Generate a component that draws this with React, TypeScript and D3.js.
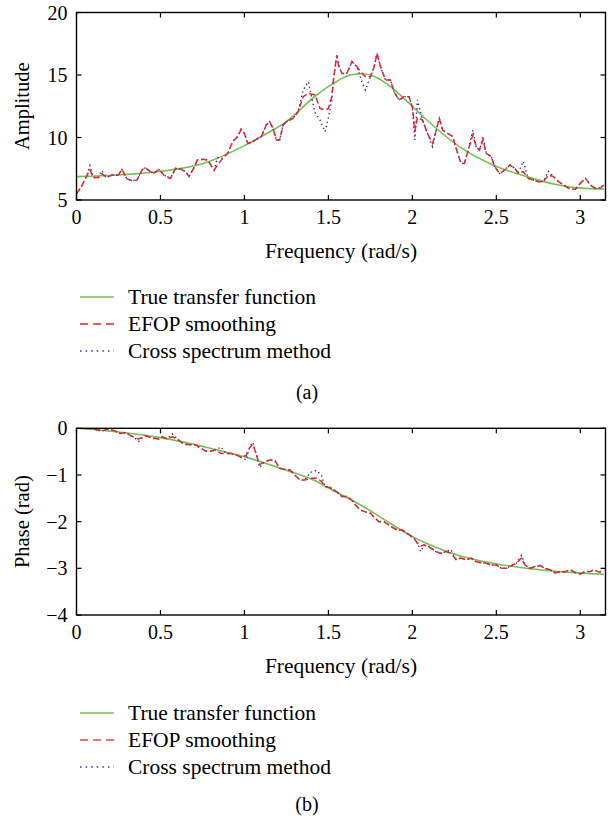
import React from "react";
import * as d3 from "d3";

const freqTicks = [0, 0.5, 1, 1.5, 2, 2.5, 3];
const ampTicks = [5, 10, 15, 20];
const phaseTicks = [0, -1, -2, -3, -4];
const legendLabels = ["True transfer function", "EFOP smoothing", "Cross spectrum method"];

const ampTrueFreq = [0, 0.25, 0.5, 0.75, 1.0, 1.13, 1.235, 1.43, 1.53, 1.63, 1.7, 1.77, 1.87, 1.97, 2.07, 2.28, 2.48, 2.68, 2.87, 3.0, 3.14];
const ampTrue = [6.87, 7.0, 7.3, 7.9, 9.35, 10.3, 11.13, 13.4, 14.33, 15.0, 15.1, 14.9, 14.07, 12.87, 11.6, 9.27, 7.8, 6.87, 6.2, 5.95, 5.87];

const ampFreq = [0.00, 0.03, 0.06, 0.08, 0.10, 0.13, 0.15, 0.18, 0.21, 0.25,
  0.27, 0.30, 0.33, 0.36, 0.39, 0.41, 0.44, 0.46, 0.49, 0.52,
  0.56, 0.59, 0.62, 0.65, 0.67, 0.70, 0.72, 0.75, 0.78, 0.80,
  0.82, 0.84, 0.87, 0.90, 0.93, 0.96, 0.98, 1.00, 1.02, 1.05,
  1.08, 1.10, 1.13, 1.15, 1.17, 1.19, 1.21, 1.23, 1.25, 1.29,
  1.32, 1.35, 1.38, 1.42, 1.45, 1.48, 1.50, 1.52, 1.53, 1.55,
  1.56, 1.58, 1.61, 1.64, 1.67, 1.70, 1.72, 1.75, 1.77, 1.79,
  1.81, 1.84, 1.87, 1.89, 1.92, 1.95, 1.98, 2.00, 2.015, 2.03,
  2.06, 2.09, 2.12, 2.14, 2.16, 2.18, 2.21, 2.24, 2.27, 2.29,
  2.31, 2.33, 2.36, 2.38, 2.40, 2.42, 2.44, 2.47, 2.49, 2.52,
  2.55, 2.58, 2.61, 2.63, 2.66, 2.69, 2.72, 2.75, 2.78, 2.81,
  2.84, 2.87, 2.90, 2.93, 2.97, 3.00, 3.03, 3.06, 3.09, 3.12,
  3.14];

const ampEfop = [5.5, 6.1, 6.9, 7.4, 6.8, 6.8, 7.1, 6.8, 7.0, 7.0,
  7.45, 6.7, 6.55, 6.6, 7.4, 7.58, 7.27, 7.13, 7.45, 7.0,
  6.73, 7.53, 7.48, 7.27, 6.87, 7.61, 8.2, 8.25, 8.2, 7.8,
  7.4, 7.8, 8.33, 8.73, 9.67, 10.07, 10.65, 10.33, 9.53, 9.67,
  9.93, 10.07, 11.0, 11.27, 10.73, 9.8, 9.8, 11.0, 11.27, 11.53,
  12.07, 13.27, 13.53, 13.4, 12.33, 12.2, 12.33, 13.27, 14.6, 16.6,
  15.8, 15.13, 15.13, 16.07, 15.67, 15.13, 14.87, 14.87, 15.53, 16.73,
  15.67, 14.6, 14.6, 13.67, 13.0, 13.27, 13.27, 12.4, 10.5, 11.6,
  11.4, 10.33, 9.53, 10.47, 11.53, 10.6, 10.33, 10.07, 8.73, 7.93,
  7.93, 8.87, 10.2, 9.27, 9.0, 9.8, 8.73, 8.47, 7.67, 7.13,
  7.4, 7.8, 7.53, 7.13, 7.27, 6.73, 6.6, 6.47, 6.47, 7.0,
  6.87, 6.47, 6.2, 5.93, 5.85, 6.33, 6.73, 6.2, 5.93, 5.98,
  6.2];

const ampCross = [5.5, 6.1, 6.9, 7.75, 6.8, 6.8, 7.35, 6.8, 7.0, 7.0,
  7.45, 6.7, 6.55, 6.6, 7.4, 7.58, 7.27, 7.13, 7.45, 7.0,
  6.73, 7.53, 7.48, 7.27, 6.87, 7.61, 8.2, 8.25, 8.2, 7.8,
  7.4, 8.4, 8.33, 8.73, 9.67, 10.07, 10.65, 10.33, 9.53, 9.67,
  9.93, 10.07, 11.0, 11.27, 10.73, 9.8, 9.8, 11.0, 11.27, 11.53,
  12.07, 13.8, 14.47, 12.0, 11.4, 10.47, 11.6, 13.0, 14.6, 16.6,
  15.8, 15.13, 15.13, 16.07, 15.67, 14.4, 13.8, 14.87, 15.53, 16.73,
  15.67, 14.6, 14.6, 13.67, 13.0, 13.27, 13.27, 12.4, 9.8, 13.0,
  11.4, 10.33, 9.27, 10.47, 11.53, 10.6, 10.33, 10.07, 8.73, 7.93,
  7.93, 8.87, 10.6, 9.27, 9.0, 10.1, 8.73, 8.47, 7.67, 7.13,
  7.4, 7.8, 7.53, 7.13, 8.1, 6.73, 6.6, 6.47, 6.47, 7.3,
  6.87, 6.47, 6.2, 5.93, 5.85, 6.33, 6.73, 6.2, 5.93, 5.98,
  6.2];

const phaseTrueFreq = [0, 0.25, 0.5, 0.79, 1.0, 1.235, 1.43, 1.5, 1.63, 1.71, 1.83, 2.0, 2.1, 2.28, 2.48, 2.68, 2.87, 3.0, 3.14];
const phaseTrue = [0, -0.08, -0.2, -0.42, -0.61, -0.88, -1.14, -1.28, -1.52, -1.68, -1.95, -2.32, -2.49, -2.73, -2.89, -3.0, -3.07, -3.1, -3.13];

const phaseFreq = [0.00, 0.05, 0.10, 0.15, 0.18, 0.22, 0.26, 0.29, 0.34, 0.37,
  0.41, 0.45, 0.49, 0.51, 0.54, 0.57, 0.60, 0.64, 0.67, 0.71,
  0.73, 0.77, 0.80, 0.83, 0.86, 0.89, 0.92, 0.95, 0.98, 1.01,
  1.03, 1.05, 1.07, 1.09, 1.12, 1.15, 1.18, 1.21, 1.24, 1.27,
  1.30, 1.33, 1.36, 1.39, 1.43, 1.46, 1.48, 1.51, 1.55, 1.58,
  1.61, 1.64, 1.66, 1.69, 1.72, 1.75, 1.78, 1.80, 1.83, 1.85,
  1.88, 1.91, 1.94, 1.98, 2.01, 2.03, 2.05, 2.07, 2.10, 2.14,
  2.17, 2.20, 2.23, 2.26, 2.29, 2.32, 2.35, 2.38, 2.41, 2.44,
  2.47, 2.50, 2.53, 2.56, 2.59, 2.62, 2.65, 2.67, 2.70, 2.73,
  2.76, 2.79, 2.82, 2.85, 2.87, 2.91, 2.94, 2.97, 3.00, 3.03,
  3.06, 3.08, 3.11, 3.14];

const phaseEfop = [0, 0, -0.01, -0.06, -0.02, -0.04, -0.11, -0.09, -0.19, -0.23,
  -0.16, -0.21, -0.23, -0.18, -0.23, -0.18, -0.23, -0.34, -0.35, -0.35,
  -0.41, -0.49, -0.49, -0.46, -0.54, -0.54, -0.54, -0.57, -0.62, -0.58,
  -0.42, -0.34, -0.55, -0.78, -0.72, -0.68, -0.68, -0.86, -0.88, -0.89,
  -1.0, -1.11, -1.11, -1.07, -1.07, -1.14, -1.25, -1.27, -1.36, -1.46,
  -1.46, -1.54, -1.64, -1.75, -1.79, -1.82, -1.93, -2.0, -2.0, -2.05,
  -2.12, -2.18, -2.18, -2.28, -2.36, -2.46, -2.52, -2.5, -2.54, -2.64,
  -2.68, -2.64, -2.68, -2.81, -2.78, -2.82, -2.78, -2.86, -2.88, -2.89,
  -2.93, -2.93, -3.0, -3.0, -2.94, -2.89, -2.78, -2.93, -3.0, -2.96,
  -2.94, -3.0, -3.03, -3.1, -3.08, -3.07, -3.03, -3.09, -3.12, -3.07,
  -3.07, -3.03, -3.08, -3.06];

const phaseCross = [0, 0, -0.01, -0.06, -0.02, -0.04, -0.11, -0.09, -0.19, -0.28,
  -0.16, -0.21, -0.23, -0.18, -0.23, -0.12, -0.23, -0.34, -0.35, -0.35,
  -0.41, -0.49, -0.49, -0.46, -0.4, -0.54, -0.54, -0.57, -0.62, -0.68,
  -0.42, -0.3, -0.55, -0.84, -0.72, -0.68, -0.68, -0.86, -0.88, -0.89,
  -1.0, -1.11, -1.11, -0.95, -0.9, -1.02, -1.25, -1.27, -1.36, -1.46,
  -1.46, -1.54, -1.64, -1.75, -1.79, -1.82, -1.93, -2.0, -2.0, -2.05,
  -2.12, -2.18, -2.18, -2.28, -2.36, -2.46, -2.64, -2.5, -2.54, -2.64,
  -2.68, -2.64, -2.6, -2.81, -2.78, -2.82, -2.78, -2.86, -2.88, -2.89,
  -2.93, -2.93, -3.0, -3.0, -2.94, -2.89, -2.72, -2.93, -3.0, -2.96,
  -2.94, -3.0, -3.03, -3.1, -3.08, -3.07, -3.03, -3.09, -3.12, -3.07,
  -3.07, -3.03, -3.08, -3.06];

const GREEN = "#72c24e";
const RED = "#e8232f";
const BLUE = "#2f2f9a";
const FONT = "'Liberation Serif', 'Times New Roman', serif";

const fmt = (v: number) => (v < 0 ? "\u2212" + Math.abs(v) : String(v));

type PanelProps = {
  id: string;
  top: number;
  bottom: number;
  yDomain: [number, number];
  yTicks: number[];
  yLabel: string;
  trueF: number[];
  trueV: number[];
  freq: number[];
  efop: number[];
  cross: number[];
  legendY: number;
  caption: string;
  captionY: number;
  legendRed: string;
};

function Panel(p: PanelProps) {
  const left = 76.5;
  const right = 605.5;
  const x = d3.scaleLinear().domain([0, 3.15]).range([left, right]);
  const y = d3.scaleLinear().domain(p.yDomain).range([p.bottom, p.top]);
  const lineXY = d3
    .line<[number, number]>()
    .x((d) => x(d[0]))
    .y((d) => y(d[1]));
  const smooth = d3
    .line<[number, number]>()
    .x((d) => x(d[0]))
    .y((d) => y(d[1]))
    .curve(d3.curveMonotoneX);
  const trueData = p.trueF.map((f, i) => [f, p.trueV[i]] as [number, number]);
  const efopData = p.freq.map((f, i) => [f, p.efop[i]] as [number, number]);
  const crossData = p.freq.map((f, i) => [f, p.cross[i]] as [number, number]);
  const tl = 5;
  const midY = (p.top + p.bottom) / 2;
  const midX = (left + right) / 2;
  const rows = [0, 1, 2].map((i) => p.legendY + i * 27);
  return (
    <g>
      <defs>
        <clipPath id={p.id}>
          <rect x={left} y={p.top} width={right - left} height={p.bottom - p.top} />
        </clipPath>
      </defs>
      <g clipPath={`url(#${p.id})`} fill="none">
        <path d={smooth(trueData) || ""} stroke={GREEN} strokeWidth={1.6} />
        <path d={lineXY(crossData) || ""} stroke={BLUE} strokeWidth={1.4} strokeDasharray="1.4,3" />
        <path d={lineXY(efopData) || ""} stroke={RED} strokeWidth={1.5} strokeDasharray="6,3" />
      </g>
      <rect x={left} y={p.top} width={right - left} height={p.bottom - p.top} fill="none" stroke="#000" strokeWidth={1.4} />
      {freqTicks.map((t) => (
        <g key={"xt" + t}>
          <line x1={x(t)} x2={x(t)} y1={p.bottom} y2={p.bottom - tl} stroke="#000" strokeWidth={1.2} />
          <line x1={x(t)} x2={x(t)} y1={p.top} y2={p.top + tl} stroke="#000" strokeWidth={1.2} />
          <text x={x(t)} y={p.bottom + 17} textAnchor="middle" dominantBaseline="central" fontSize={20} fontFamily={FONT}>
            {fmt(t)}
          </text>
        </g>
      ))}
      {p.yTicks.map((t) => (
        <g key={"yt" + t}>
          <line x1={left} x2={left + tl} y1={y(t)} y2={y(t)} stroke="#000" strokeWidth={1.2} />
          <line x1={right} x2={right - tl} y1={y(t)} y2={y(t)} stroke="#000" strokeWidth={1.2} />
          <text x={left - 9} y={y(t)} textAnchor="end" dominantBaseline="central" fontSize={20} fontFamily={FONT}>
            {fmt(t)}
          </text>
        </g>
      ))}
      <text
        transform={`translate(22,${midY}) rotate(-90)`}
        textAnchor="middle"
        dominantBaseline="central"
        fontSize={20.5}
        fontFamily={FONT}
      >
        {p.yLabel}
      </text>
      <text x={midX} y={p.bottom + 51} textAnchor="middle" dominantBaseline="central" fontSize={21.5} fontFamily={FONT}>
        Frequency (rad/s)
      </text>
      <line x1={80} x2={114} y1={rows[0]} y2={rows[0]} stroke={GREEN} strokeWidth={1.6} />
      <line x1={80} x2={114} y1={rows[1]} y2={rows[1]} stroke={p.legendRed} strokeWidth={1.5} strokeDasharray="8,5" />
      <line x1={80} x2={114} y1={rows[2]} y2={rows[2]} stroke={BLUE} strokeWidth={1.4} strokeDasharray="1.4,4.2" />
      {legendLabels.map((l, i) => (
        <text key={l} x={128} y={rows[i]} dominantBaseline="central" fontSize={21.5} fontFamily={FONT}>
          {l}
        </text>
      ))}
      <text x={307} y={p.captionY} textAnchor="middle" dominantBaseline="central" fontSize={20} fontFamily={FONT}>
        {p.caption}
      </text>
    </g>
  );
}

export default function App() {
  return (
    <svg
      width={613}
      height={823}
      viewBox="0 0 613 823"
      style={{ position: "absolute", left: 0, top: 0, background: "#fff" }}
    >
      <rect width={613} height={823} fill="#fff" />
      <Panel
        id="clipA"
        top={12.5}
        bottom={200}
        yDomain={[5, 20]}
        yTicks={ampTicks}
        yLabel="Amplitude"
        trueF={ampTrueFreq}
        trueV={ampTrue}
        freq={ampFreq}
        efop={ampEfop}
        cross={ampCross}
        legendY={297}
        caption="(a)"
        captionY={392}
        legendRed={RED}
      />
      <Panel
        id="clipB"
        top={428.3}
        bottom={615}
        yDomain={[-4, 0]}
        yTicks={phaseTicks}
        yLabel="Phase (rad)"
        trueF={phaseTrueFreq}
        trueV={phaseTrue}
        freq={phaseFreq}
        efop={phaseEfop}
        cross={phaseCross}
        legendY={713}
        caption="(b)"
        captionY={804}
        legendRed="#f0404a"
      />
    </svg>
  );
}
